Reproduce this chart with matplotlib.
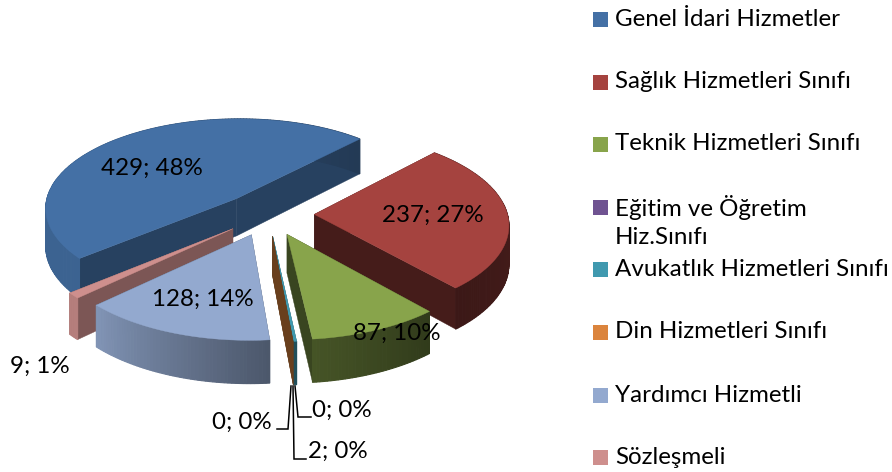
import numpy as np
import matplotlib
matplotlib.use("Agg")
import matplotlib.pyplot as plt
from matplotlib.patches import Rectangle, Polygon

plt.rcParams['font.family'] = ['Lato', 'DejaVu Sans']

categories = ["Genel İdari Hizmetler", "Sağlık Hizmetleri Sınıfı", "Teknik Hizmetleri Sınıfı",
              "Eğitim ve Öğretim\nHiz.Sınıfı", "Avukatlık Hizmetleri Sınıfı", "Din Hizmetleri Sınıfı",
              "Yardımcı Hizmetli", "Sözleşmeli"]
values = [429, 237, 87, 0, 2, 0, 128, 9]
colors = ["#4470A5", "#A5433F", "#88A44B", "#6F5391", "#4099AF", "#DB843D", "#93A9CF", "#CE8F8D"]

FS = 17.4
START = 230.0      # first slice angle, clockwise from the back of the pie
EXPLODE = 0.24
CX, CY, FX, GY, P, H = 268, 214, 193, 90.5, 0.10, 38

fig = plt.figure(figsize=(8.92, 4.72), dpi=100)
ax = fig.add_axes([0, 0, 1, 1])
ax.set_xlim(0, 892)
ax.set_ylim(472, 0)
ax.axis('off')


def project(u, v, drop=0.0):
    w = 1 + P * v
    return CX + FX * u / w, CY - GY * v / w + H * drop / w


def shade(rgb, k):
    return tuple(min(1, c * k) for c in rgb)


def side_factor(theta):
    t = theta % 360
    return np.interp(t, [0, 90, 139, 175, 226, 280, 360], [.6, .42, .36, .52, .88, .88, .6])


total = sum(values)
spans = [360.0 * v / total for v in values]
starts = START + np.concatenate([[0], np.cumsum(spans)[:-1]])
# painter's order, back to front
order = [0, 1, 7, 6, 3, 4, 5, 2]
face_k = {0: .58, 1: .42, 2: .42, 3: .4, 4: .5, 5: .48, 6: .5, 7: .60}

for i in order:
    th0, th1 = starts[i], starts[i] + spans[i]
    mid = np.radians((th0 + th1) / 2)
    au, av = EXPLODE * np.sin(mid), EXPLODE * np.cos(mid)
    ts = np.radians(np.linspace(th0, th1, max(2, int(spans[i]) + 2)))
    uu, vv = au + np.sin(ts), av + np.cos(ts)
    rgb = matplotlib.colors.to_rgb(colors[i])
    z = order.index(i) * 3 + 2
    if values[i] == 0 and i != 5:
        continue
    # cut faces
    for t in (ts[0], ts[-1]):
        eu, ev = au + np.sin(t), av + np.cos(t)
        pts = [project(au, av), project(eu, ev), project(eu, ev, 1), project(au, av, 1)]
        col = shade(rgb, face_k[i])
        ax.add_patch(Polygon(pts, closed=True, fc=col, ec=col, lw=0.3, zorder=z))
    if values[i] == 0:
        continue
    # outer wall, shaded along the arc
    for k in range(len(ts) - 1):
        pts = [project(uu[k], vv[k]), project(uu[k + 1], vv[k + 1]),
               project(uu[k + 1], vv[k + 1], 1), project(uu[k], vv[k], 1)]
        col = shade(rgb, side_factor(np.degrees(ts[k])))
        ax.add_patch(Polygon(pts, closed=True, fc=col, ec=col, lw=0.8, zorder=z + 1))
    # top
    top = [project(au, av)] + [project(a, b) for a, b in zip(uu, vv)]
    ax.add_patch(Polygon(top, closed=True, fc=rgb, ec=rgb, lw=0.3, zorder=z + 2))

# data labels
labels = [f"{v}; {round(100 * v / total)}%" for v in values]
label_xy = [(152, 168), (433, 215), (397, 333), (342, 410), (338, 451), (242, 422), (203, 299), (40, 366)]
for s, (x, y) in zip(labels, label_xy):
    ax.text(x, y, s, fontsize=FS, ha='center', va='center', color='black', zorder=60)

# leader lines
leaders = [[(295, 386), (298, 417), (311, 417)],
           [(293, 386), (294, 459), (306, 459)],
           [(291, 386), (288, 429), (277, 429)]]
for ln in leaders:
    ax.plot(*zip(*ln), color='black', lw=1.1, zorder=59, solid_joinstyle='miter')

# legend
legend_y = [19, 82, 144, 207, 269, 332, 395, 457]
for name, col, y in zip(categories, colors, legend_y):
    ax.add_patch(Rectangle((593, y - 7.5), 15, 15, fc=col, ec='none', zorder=60))
    if "\n" in name:
        first, second = name.split("\n")
        ax.text(615, y, first, fontsize=FS, va='center', ha='left', zorder=60)
        ax.text(615, y + 31, second, fontsize=FS, va='center', ha='left', zorder=60)
    else:
        ax.text(615, y, name, fontsize=FS, va='center', ha='left', zorder=60)

fig.savefig("out.png", dpi=100)
